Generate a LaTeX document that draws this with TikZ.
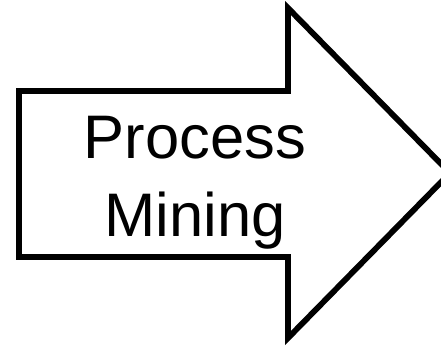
\documentclass[tikz,border=0pt]{standalone}
\usepackage{fontspec}
\setmainfont{Liberation Sans}
\begin{document}
\begin{tikzpicture}[x=1pt,y=-1pt,
  arrowshape/.style={draw=black,line width=5.8pt,line join=miter,fill=white},
  bigtext/.style={font=\fontsize{61.5}{78}\selectfont,anchor=base,inner sep=0pt}]
\useasboundingbox (0,0) rectangle (441,346);
\clip (0,0) rectangle (441,346);
\draw[arrowshape] (19,91) -- (288,91) -- (288,8) -- (450,173) -- (288,338) -- (288,257) -- (19,257) -- cycle;
\node[bigtext] (l1) at (195,158) {Process};
\node[bigtext] (l2) at (195,236) {Mining};
\end{tikzpicture}
\end{document}
